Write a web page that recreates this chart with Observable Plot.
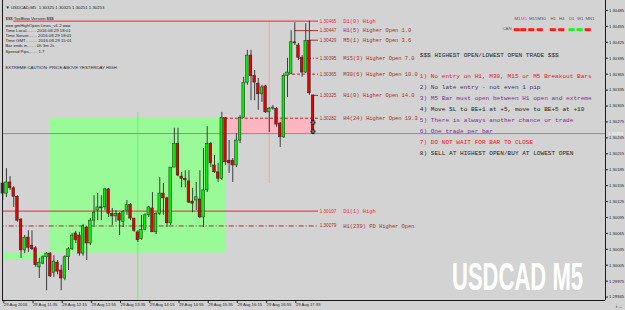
<!DOCTYPE html>
<html><head><meta charset="utf-8">
<script src="https://cdn.jsdelivr.net/npm/d3@7"></script>
<script src="https://cdn.jsdelivr.net/npm/@observablehq/plot@0.6"></script>
<style>
html,body{margin:0;padding:0;background:#d3d3d3;}
#chart{width:625px;height:310px;overflow:hidden;position:relative;}
svg{display:block}
</style></head><body><div id="chart"></div>
<script>
// ---- M5 candles, USDCAD 29 Aug 2016, first bar 10:55 ----
const firstBar = "2016-08-29T10:55Z";
const barMinutes = 5;
const open = [1.30159,1.30140,1.30161,1.30150,1.30134,1.30091,1.30033,1.30057,1.30042,1.30037,
1.30001,1.30008,1.30020,1.30027,1.29991,1.30010,1.29995,1.29980,1.30020,1.30035,
1.30065,1.30061,1.30027,1.30076,1.30046,1.30089,1.30108,1.30114,1.30114,1.30148,
1.30102,1.30097,1.30102,1.30087,1.30108,1.30119,1.30093,1.30067,1.30054,1.30072,
1.30099,1.30112,1.30067,1.30102,1.30140,1.30131,1.30084,1.30189,1.30234,1.30172,
1.30168,1.30163,1.30125,1.30127,1.30129,1.30095,1.30146,1.30234,1.30193,1.30180,
1.30168,1.30282,1.30202,1.30202,1.30193,1.30240,1.30283,1.30349,1.30400,1.30362,
1.30347,1.30327,1.30342,1.30293,1.30300,1.30300,1.30272,1.30246,1.30362,1.30366,
1.30425,1.30419,1.30396,1.30368,1.30428,1.30325];
const high = [1.30161,1.30187,1.30172,1.30153,1.30136,1.30093,1.30061,1.30070,1.30070,1.30040,
1.30018,1.30023,1.30029,1.30029,1.30023,1.30014,1.30005,1.30023,1.30038,1.30065,
1.30069,1.30067,1.30082,1.30078,1.30093,1.30136,1.30140,1.30136,1.30150,1.30150,
1.30112,1.30108,1.30104,1.30108,1.30127,1.30121,1.30093,1.30070,1.30099,1.30102,
1.30116,1.30142,1.30104,1.30170,1.30159,1.30133,1.30189,1.30263,1.30263,1.30180,
1.30183,1.30183,1.30150,1.30161,1.30183,1.30225,1.30266,1.30236,1.30212,1.30197,
1.30293,1.30283,1.30240,1.30206,1.30253,1.30287,1.30359,1.30410,1.30410,1.30372,
1.30357,1.30344,1.30344,1.30302,1.30306,1.30302,1.30274,1.30366,1.30395,1.30447,
1.30462,1.30423,1.30400,1.30460,1.30465,1.30325];
const low = [1.30127,1.30133,1.30146,1.30114,1.30086,1.30018,1.30027,1.30029,1.30033,1.30001,
1.29980,1.30006,1.29957,1.29982,1.29982,1.29987,1.29957,1.29976,1.29995,1.30033,
1.30046,1.30022,1.30022,1.30014,1.30042,1.30076,1.30089,1.30089,1.30108,1.30095,
1.30080,1.30086,1.30061,1.30076,1.30099,1.30089,1.30067,1.30048,1.30052,1.30070,
1.30095,1.30067,1.30063,1.30099,1.30099,1.30076,1.30080,1.30189,1.30172,1.30151,
1.30151,1.30121,1.30104,1.30108,1.30093,1.30076,1.30142,1.30189,1.30178,1.30161,
1.30165,1.30193,1.30178,1.30161,1.30189,1.30234,1.30282,1.30344,1.30315,1.30315,
1.30297,1.30312,1.30291,1.30255,1.30297,1.30265,1.30227,1.30244,1.30321,1.30364,
1.30419,1.30391,1.30359,1.30366,1.30325,1.30251];
const close = [1.30140,1.30161,1.30150,1.30134,1.30089,1.30033,1.30057,1.30038,1.30035,1.30005,
1.30010,1.30020,1.30027,1.29984,1.30012,1.29993,1.29980,1.30020,1.30035,1.30061,
1.30052,1.30027,1.30078,1.30046,1.30089,1.30104,1.30114,1.30112,1.30148,1.30102,
1.30097,1.30102,1.30089,1.30106,1.30118,1.30093,1.30070,1.30052,1.30072,1.30099,
1.30114,1.30067,1.30102,1.30140,1.30131,1.30084,1.30189,1.30234,1.30174,1.30168,
1.30165,1.30123,1.30121,1.30133,1.30095,1.30146,1.30234,1.30197,1.30180,1.30168,
1.30282,1.30199,1.30197,1.30193,1.30240,1.30283,1.30349,1.30400,1.30361,1.30349,
1.30327,1.30340,1.30293,1.30300,1.30302,1.30270,1.30246,1.30362,1.30368,1.30425,
1.30423,1.30396,1.30368,1.30428,1.30329,1.30253];

// H4 candle boxes (bar index of start/end, open, close)
const h4Start = [-48, 13, 61];
const h4End   = [13, 61, 85];
const h4Open  = [1.30015, 1.30028, 1.30282];
const h4Close = [1.30028, 1.30282, 1.30253];

// level lines and labels
const levelNames  = ["D1(0) High","H1(5) Higher Open 1.0","M5(1) Higher Open 3.6","M15(3) Higher Open 7.0","M30(6) Higher Open 10.0","H1(0) Higher Open 14.0","H4(24) Higher Open 19.3","D1(1) High","H1(239) PD Higher Open"];
const levelPrices = [1.30465,1.30447,1.30429,1.30395,1.30365,1.30325,1.30282,1.30107,1.30079];
const levelFromBar= [3,80,84,81,78,85,61,-1,-1];
const levelColors = ["#f0233a","#a3302c","#a3302c","#a3302c","#a3302c","#a3302c","#a3302c","#f0233a","#a3302c"];
const levelDash   = ["none","none","none","4,2,1,2","3,2","none","3,2","none","5,2,1,2"];

// vertical markers: bar index, top price, bottom price
const vlineBars = [37, 73];
const vlineTop = [1.30293, 1.30466];
const vlineBottom = [1.29939, 1.30159];
const vlineColors = ["#78e878", "#ff9e9e"];

const orderMarks = [1.30274, 1.30257];
const bid = 1.30253;

const yTicks = [1.30485,1.30455,1.30425,1.30395,1.30365,1.30335,1.30305,1.30275,1.30245,1.30215,1.30185,1.30155,1.30125,1.30095,1.30065,1.30035,1.30005,1.29975,1.29945];
const xTickBars = [0,8,16,24,32,40,48,56,64,72,80];
const xTickLabels = ["29 Aug 2016","29 Aug 11:35","29 Aug 12:15","29 Aug 12:55","29 Aug 13:35","29 Aug 14:15","29 Aug 14:55","29 Aug 15:35","29 Aug 16:15","29 Aug 16:55","29 Aug 17:35"];

const infoLines = ["▼ USDCAD,M5  1.30325 1.30325 1.30251 1.30253","$$$ TosBlow Version $$$","=== gmHighOpen Lines_v1.2 ===","Time Local........ 2016.08.29 18:01","Time Server....... 2016.08.29 18:01","Time GMT.......... 2016.08.29 15:01","Bar ends in....... 0h 3m 2s","Spread Pips....... 1.7","EXTREME CAUTION: PRICE ABOVE YESTERDAY HIGH"];
const infoY = [5,16,23,28,33.3,38.7,43.7,49,65.7];

const ruleTitle = "$$$ HIGHEST OPEN/LOWEST OPEN TRADE $$$";
const rules = ["1) No entry on H1, M30, M15 or M5 Breakout Bars","2) No late entry - not even 1 pip","3) M5 Bar must open between H1 open and extreme","4) Move SL to BE+1 at +5, move to BE+5 at +10","5) There is always another chance or trade","6) One trade per bar","7) DO NOT WAIT FOR BAR TO CLOSE","8) SELL AT HIGHEST OPEN/BUY AT LOWEST OPEN"];
const ruleColors = ["#ee1122","#4a2a6e","#7a2aa0","#222222","#7a2aa0","#7a2aa0","#ee1122","#222222"];

const tfNames = ["M1","M5","M15","M30","H1","H4","D1","W1","MN1"];
const tfX = [512,518.5,526.5,535,548,556.5,566.5,574.5,583];
const tfTrend = ["down","down","down","down","down","down","up","up","down"];

const watermark = "USDCAD M5";

// ---- build ----
const BAR = barMinutes*60*1000;
const t0 = +new Date(firstBar);
const barTime = i => new Date(t0 + i*BAR);
const bars = open.map((o,i)=>({t: barTime(i), o, h: high[i], l: low[i], c: close[i]}));
const labelBar = 86.5, boxBar = 89.1, nameBar = 93.3;
const mono = "Liberation Mono, DejaVu Sans Mono, monospace";
const sans = "Liberation Sans, Arial, sans-serif";

const marks = [];
marks.push(Plot.rect(d3.range(h4Start.length), {
  x1: i=>barTime(h4Start[i]), x2: i=>barTime(h4End[i]), y1: i=>h4Open[i], y2: i=>h4Close[i],
  fill: i=> h4Close[i]>=h4Open[i] ? "#98fb98" : "#ffb6c1", clip: true}));
marks.push(Plot.ruleX(d3.range(vlineBars.length), {x: i=>barTime(vlineBars[i]), y1: i=>vlineTop[i], y2: i=>vlineBottom[i], stroke: i=>vlineColors[i], strokeWidth: 1}));
marks.push(Plot.ruleY([bid], {stroke: "#8e8e8e", strokeWidth: 1}));
levelNames.forEach((n,i)=>{
  marks.push(Plot.ruleY([levelPrices[i]], {x1: ()=>barTime(levelFromBar[i]), x2: ()=>barTime(labelBar), stroke: levelColors[i], strokeWidth: 1, strokeDasharray: levelDash[i]==="none"?null:levelDash[i], clip: true}));
});
// wicks and bodies
marks.push(Plot.ruleX(bars, {x: "t", y1: "l", y2: "h", stroke: "#2b2b2b", strokeWidth: 0.9}));
marks.push(Plot.rect(bars, {x1: d=>new Date(+d.t - 0.36*BAR), x2: d=>new Date(+d.t + 0.36*BAR), y1: "o", y2: "c",
  fill: d=> d.c>=d.o ? "#00f000" : "#e00000", stroke: "#242424", strokeWidth: 0.5}));
marks.push(Plot.dot(orderMarks, {x: ()=>barTime(85), y: d=>d, r: 2.1, fill: "#333", stroke: "#000", strokeWidth: 0.6}));
marks.push(Plot.dot(orderMarks, {x: ()=>barTime(85), y: d=>d, r: 1.5, symbol: "times", stroke: "#bbb", strokeWidth: 0.6}));
// level labels
marks.push(Plot.text(levelPrices, {x: ()=>barTime(boxBar), y: d=>d, text: d=>d.toFixed(5), fill: (d,i)=>levelColors[i], fontSize: 4.6, fontFamily: sans, ariaLabel: "lvlbox"}));
marks.push(Plot.text(levelNames, {x: ()=>barTime(nameBar), y: (d,i)=>levelPrices[i], text: d=>d, fill: (d,i)=>levelColors[i], fontSize: 5.4, fontFamily: mono, textAnchor: "start"}));
// rules block
marks.push(Plot.text([ruleTitle], {frameAnchor: "top-left", dx: 417.3, dy: 52, text: d=>d, textAnchor: "start", fontSize: 6.1, fontFamily: mono, fill: "#222"}));
rules.forEach((r,i)=> marks.push(Plot.text([r], {frameAnchor: "top-left", dx: 417.3, dy: 73.3 + i*10.96, text: d=>d, textAnchor: "start", fontSize: 6.1, fontFamily: mono, fill: ruleColors[i]})));
// info block
infoLines.forEach((s,i)=> marks.push(Plot.text([s], {frameAnchor: "top-left", dx: 3, dy: infoY[i], text: d=>d, textAnchor: "start", fontSize: 4.3, fontFamily: sans, fill: "#1c1c1c"})));
// timeframe trend panel
tfNames.forEach((s,i)=> {
  marks.push(Plot.text([s], {frameAnchor: "top-left", dx: tfX[i], dy: 16, text: d=>d, textAnchor: "start", fontSize: 4.3, fontFamily: sans, fill: s==="M5" ? "#ff22ff" : "#555"}));
  marks.push(Plot.text(["▬"], {frameAnchor: "top-left", dx: tfX[i]-1.5, dy: 26, text: d=>d, textAnchor: "start", fontSize: 8, fontFamily: "DejaVu Sans", fill: tfTrend[i]==="up" ? "#22ee22" : "#ff1a1a"}));
});
marks.push(Plot.text(["CAN"], {frameAnchor: "top-left", dx: 500, dy: 26, text: d=>d, textAnchor: "start", fontSize: 4.3, fontFamily: sans, fill: "#555"}));
// axes and frame
const xDomain = [barTime(-0.082), barTime(165.12)];
const yDomain = [1.299386, 1.305038];
marks.push(Plot.axisY({anchor: "right", ticks: yTicks, tickFormat: d=>d.toFixed(5), tickSize: 2, tickPadding: 1.5, fontSize: 4.2, fontFamily: sans, fill: "#222", stroke: "#222"}));
const labelMap = new Map(xTickBars.map((b,i)=>[+barTime(b), xTickLabels[i]]));
marks.push(Plot.axisX({anchor: "bottom", ticks: xTickBars.map(barTime), tickFormat: d=>labelMap.get(+d), textAnchor: "start", tickSize: 3, tickPadding: 0, fontSize: 4.2, fontFamily: sans, fill: "#222", stroke: "#222", dx: 1}));
marks.push(Plot.ruleX(xDomain, {stroke: "#1a1a1a", strokeWidth: 1}));
marks.push(Plot.ruleY([yDomain[0]], {stroke: "#1a1a1a", strokeWidth: 1}));
// current bid price tag
marks.push(Plot.text([bid], {frameAnchor: "right", y: d=>d, dx: 2.5, text: d=>d.toFixed(5), textAnchor: "start", fontSize: 4.2, fontFamily: sans, fill: "#fff", ariaLabel: "bidtag"}));

const chart = Plot.plot({
  width: 625, height: 310,
  marginLeft: 2, marginRight: 20, marginTop: 0, marginBottom: 10,
  x: {type: "utc", domain: xDomain},
  y: {domain: yDomain},
  style: {background: "#d3d3d3", overflow: "visible"},
  marks
});
document.getElementById("chart").append(chart);

// boxes around level price labels and the bid tag
const svg = d3.select(chart);
const sr = chart.getBoundingClientRect();
svg.selectAll('g[aria-label="lvlbox"] text').each(function(d,i){
  const b = this.getBoundingClientRect();
  const cx = b.left - sr.left + b.width/2, cy = b.top - sr.top + b.height/2;
  svg.insert("rect", 'g[aria-label="lvlbox"]').attr("x", cx-9.6).attr("y", cy-3.4).attr("width", 19.2).attr("height", 6.8)
    .attr("fill", "#dcdcdc").attr("stroke", levelColors[i]).attr("stroke-width", 0.8);
});
svg.selectAll('g[aria-label="bidtag"] text').each(function(){
  const b = this.getBoundingClientRect();
  const cy = b.top - sr.top + b.height/2;
  svg.insert("rect", 'g[aria-label="bidtag"]').attr("x", 605.5).attr("y", cy-3.6).attr("width", 19.5).attr("height", 7.2).attr("fill", "#000");
});
// chart watermark (symbol and period): bold white text, stretched vertically
svg.append("text").text(watermark)
  .attr("x", 0).attr("y", 0)
  .attr("transform", "translate(452,290) scale(1,1.78)")
  .attr("text-anchor", "start")
  .attr("textLength", 131).attr("lengthAdjust", "spacingAndGlyphs")
  .attr("font-family", sans).attr("font-weight", "bold").attr("font-size", 22)
  .attr("fill", "#ffffff");
</script></body></html>
